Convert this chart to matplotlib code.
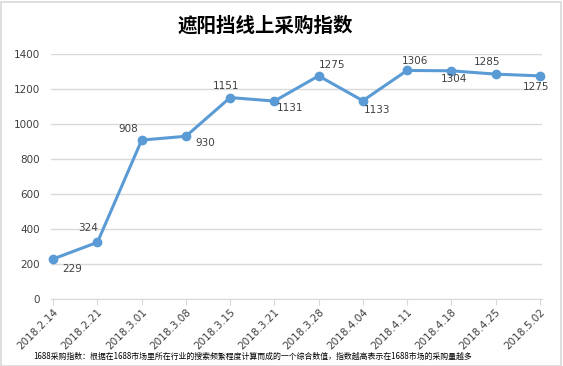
import matplotlib.pyplot as plt
from matplotlib.patches import Rectangle

plt.rcParams['font.family'] = ['Noto Sans CJK SC', 'DejaVu Sans']

# --- Data ---
dates = ["2018.2.14", "2018.2.21", "2018.3.01", "2018.3.08", "2018.3.15", "2018.3.21",
         "2018.3.28", "2018.4.04", "2018.4.11", "2018.4.18", "2018.4.25", "2018.5.02"]
index_values = [229, 324, 908, 930, 1151, 1131, 1275, 1133, 1306, 1304, 1285, 1275]
yticks = [0, 200, 400, 600, 800, 1000, 1200, 1400]

# label offsets in points (dx, dy), like Excel's auto placement
label_offsets = [(14, -7), (-7, 10), (-10, 8), (14, -5), (-3, 8), (11, -5),
                 (10, 8), (10, -7), (6, 7), (2, -6), (-6, 9), (-3, -8)]

line_color = '#5b9bd5'
grid_color = '#d9d9d9'
text_color = '#404040'

fig = plt.figure(figsize=(5.63, 3.66), dpi=100)
W, H = 563, 366
ax = fig.add_axes([51 / W, (H - 299) / H, (542 - 51) / W, (299 - 54) / H])

x = list(range(len(dates)))
ax.plot(x, index_values, color=line_color, linewidth=2.2, marker='o',
        markersize=6, zorder=3, clip_on=False)

for xi, v, (dx, dy) in zip(x, index_values, label_offsets):
    ax.annotate(str(v), (xi, v), xytext=(dx, dy), textcoords='offset points',
                ha='center', va='center', fontsize=7.5, color=text_color,
                family=['DejaVu Sans'])

ax.set_xlim(-0.05, 11.05)
ax.set_ylim(0, 1400)
ax.set_yticks(yticks)
ax.yaxis.grid(True, color=grid_color, linewidth=1)
ax.set_axisbelow(True)
for s in ['top', 'right', 'left']:
    ax.spines[s].set_visible(False)
ax.spines['bottom'].set_color(grid_color)
ax.tick_params(axis='y', length=0, pad=8, labelsize=7.5, labelcolor=text_color)
ax.tick_params(axis='x', length=4, color=grid_color, direction='out', pad=2)
ax.set_xticks(x)
ax.set_xticklabels(dates, rotation=45, ha='right', rotation_mode='anchor',
                   fontsize=7.5, color=text_color, family=['DejaVu Sans'])
for lbl in ax.get_yticklabels():
    lbl.set_family(['DejaVu Sans'])

fig.text(265 / W, 1 - 26 / H, "遮阳挡线上采购指数", ha='center', va='center',
         fontsize=14, fontweight='bold', color='black')
fig.text(33 / W, 1 - 356 / H,
         "1688采购指数：根据在1688市场里所在行业的搜索频繁程度计算而成的一个综合数值，指数越高表示在1688市场的采购量越多",
         ha='left', va='center', fontsize=5.7, color='black')

fig.patches.append(Rectangle((0.5 / W, 0.5 / H), (W - 3) / W, (H - 2) / H,
                             transform=fig.transFigure, fill=False,
                             edgecolor=grid_color, linewidth=1.2))

fig.savefig('out.png', dpi=100)
